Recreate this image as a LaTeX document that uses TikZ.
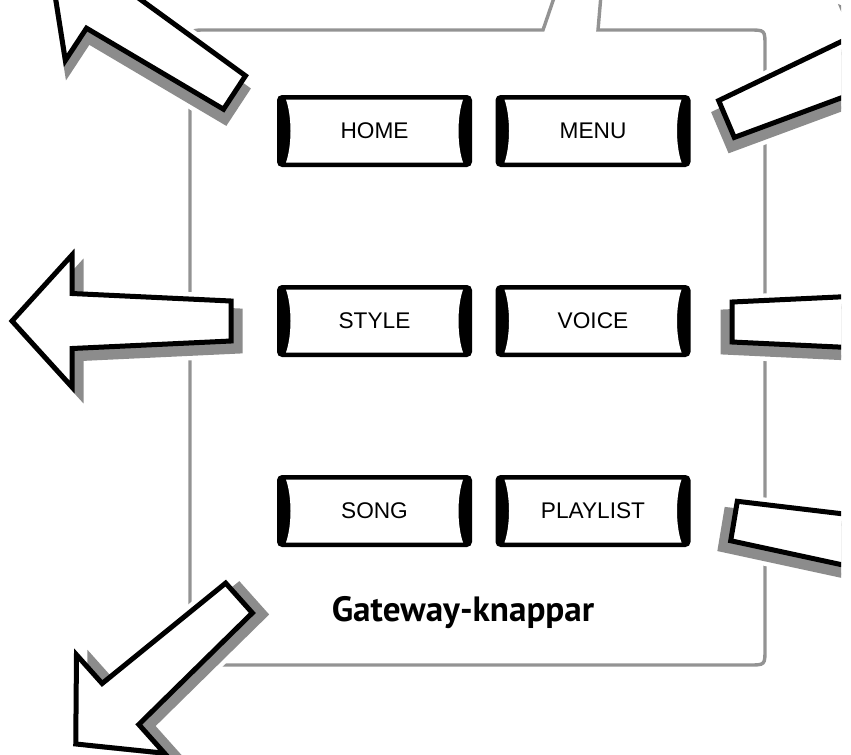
\documentclass[tikz,border=0pt]{standalone}
\usepackage{fontspec}
\newfontfamily\btnfont{Liberation Sans}
\newfontfamily\capfont{PT Sans}
\definecolor{framegray}{HTML}{939393}
\definecolor{shadowgray}{HTML}{8C8C8C}
\tikzset{
  frameline/.style={draw=framegray, line width=0.068cm},
  halo/.style={draw=white, fill=white, line width=0.28cm, line join=round},
  arrowshadow/.style={draw=shadowgray, fill=shadowgray, line width=0.1cm},
  arrowbody/.style={draw=black, fill=white, line width=0.1cm},
  btnlabel/.style={font=\btnfont\fontsize{12.9}{15}\selectfont, inner sep=0pt},
  caption/.style={font=\capfont\bfseries\fontsize{20}{24}\selectfont, inner sep=0pt}
}
% block arrow, tail centre at the origin, pointing left
\newcommand{\gwarrowpath}{(0,-20) -- (-159,-27.5) -- (-159,-66) -- (-219,0) -- (-159,66) -- (-159,27.5) -- (0,20) -- cycle}
\newcommand{\gwarrow}[3]{%
  \begin{scope}[shift={#1}, rotate=#2, xscale=#3]
    \path[halo] \gwarrowpath;
    \path[halo, shift={(9,10)}] \gwarrowpath;
    \path[arrowshadow, shift={(9,10)}] \gwarrowpath;
    \path[arrowbody] \gwarrowpath;
  \end{scope}}
\newcommand{\gwbutton}[3]{%
  \begin{scope}[shift={#2}]
    \fill[black, rounded corners=0.1cm] (-97.5,-36) rectangle (97.5,36);
    \fill[white] (-88.5,-31.5) -- (88.5,-31.5) .. controls (82.5,-14) and (82.5,14) .. (88.5,31.5)
      -- (-88.5,31.5) .. controls (-82.5,14) and (-82.5,-14) .. cycle;
  \end{scope}
  \node[btnlabel] (#1) at #2 {#3};}

\begin{document}
\begin{tikzpicture}[x=0.02cm, y=-0.02cm]
  \useasboundingbox (0,0) rectangle (851,754);
  \clip (0,0) rectangle (841,754);

  % frame with the tab at the top
  \draw[frameline] (555,-5) -- (543,30) -- (206,30) .. controls (190,30) .. (190,46)
    -- (190,649) .. controls (190,665) .. (206,665) -- (749,665) .. controls (765,665) .. (765,649)
    -- (765,46) .. controls (765,30) .. (749,30) -- (598,30) -- (601,-5);

  % arrows
  \gwarrow{(234.5,92.5)}{-33.3}{1}
  \gwarrow{(231,321)}{0}{1}
  \gwarrow{(239,598)}{41.8}{1}
  \gwarrow{(726.5,119)}{23}{-1}
  \gwarrow{(732,322)}{0}{-1}
  \gwarrow{(734,521)}{-9.5}{-1}

  % buttons
  \gwbutton{home}{(374.5,131)}{HOME}
  \gwbutton{menu}{(593,131)}{MENU}
  \gwbutton{style}{(374.5,321)}{STYLE}
  \gwbutton{voice}{(593,321)}{VOICE}
  \gwbutton{song}{(374.5,511)}{SONG}
  \gwbutton{playlist}{(593,511)}{PLAYLIST}

  \node[caption] (caption) at (463,613) {Gateway-knappar};
\end{tikzpicture}
\end{document}
